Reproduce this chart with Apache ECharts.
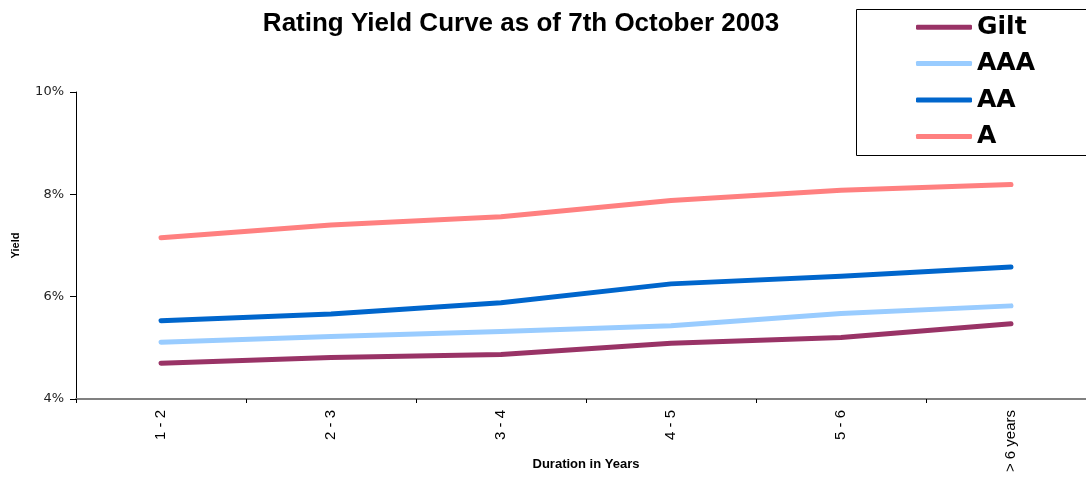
<!DOCTYPE html>
<html>
<head>
<meta charset="utf-8">
<title>Rating Yield Curve</title>
<script src="https://cdn.jsdelivr.net/npm/echarts@6/dist/echarts.min.js"></script>
<style>
  html, body { margin: 0; padding: 0; background: #ffffff; }
  #chart { width: 1086px; height: 477px; }
</style>
</head>
<body>
<div id="chart"></div>
<script>
// Duration buckets (years) and yields in percent per rating class
const durations = ['1 - 2', '2 - 3', '3 - 4', '4 - 5', '5 - 6', '> 6 years'];
const gilt = [4.70, 4.81, 4.87, 5.09, 5.20, 5.47];
const aaa  = [5.11, 5.22, 5.32, 5.43, 5.67, 5.82];
const aa   = [5.53, 5.66, 5.88, 6.25, 6.40, 6.58];
const a    = [7.15, 7.40, 7.56, 7.88, 8.08, 8.19];

const seriesNames = ['Gilt', 'AAA', 'AA', 'A'];
const seriesColors = ['#993366', '#99ccff', '#0066cc', '#ff8080'];
const seriesData = [gilt, aaa, aa, a];

const chart = echarts.init(document.getElementById('chart'), null, { renderer: 'canvas' });

chart.setOption({
  animation: false,
  backgroundColor: '#ffffff',
  title: {
    text: 'Rating Yield Curve as of 7th October 2003',
    left: 516,
    top: 6,
    textAlign: 'center',
    textStyle: {
      fontFamily: 'Liberation Sans, Arial, sans-serif',
      fontWeight: 'bold',
      fontSize: 26,
      color: '#000000'
    }
  },
  graphic: [{
    type: 'rect',
    shape: { x: 856.5, y: 9.5, width: 240, height: 146 },
    style: { fill: '#ffffff', stroke: '#000000', lineWidth: 1 },
    z: 0
  }],
  legend: {
    orient: 'vertical',
    left: 916,
    top: 9,
    padding: 0,
    itemGap: 0,
    itemWidth: 56,
    itemHeight: 5,
    icon: 'roundRect',
    data: seriesNames,
    textStyle: {
      fontFamily: 'DejaVu Sans, Verdana, sans-serif',
      fontWeight: 'bold',
      fontSize: 25,
      lineHeight: 36.4,
      color: '#000000',
      padding: [0, 0, 0, 0]
    },
    z: 5
  },
  grid: {
    left: 76,
    top: 92,
    width: 1020,
    height: 307,
    containLabel: false,
    outerBoundsMode: 'none'
  },
  xAxis: {
    type: 'category',
    data: durations,
    boundaryGap: true,
    name: 'Duration in Years',
    nameLocation: 'middle',
    nameGap: 59,
    nameMoveOverlap: false,
    nameTextStyle: {
      fontFamily: 'Liberation Sans, Arial, sans-serif',
      fontWeight: 'bold',
      fontSize: 13,
      color: '#000000'
    },
    axisLine: { lineStyle: { color: '#808080', width: 2 } },
    axisTick: { show: true, length: 4, lineStyle: { color: '#000000', width: 1 } },
    axisLabel: {
      rotate: 90,
      margin: 11,
      fontFamily: 'Liberation Sans, Arial, sans-serif',
      fontSize: 15,
      color: '#000000'
    },
    splitLine: { show: false }
  },
  yAxis: {
    type: 'value',
    min: 4,
    max: 10,
    interval: 2,
    name: 'Yield',
    nameLocation: 'middle',
    nameRotate: 90,
    nameGap: 55,
    nameMoveOverlap: false,
    nameTextStyle: {
      fontFamily: 'Liberation Sans, Arial, sans-serif',
      fontWeight: 'bold',
      fontSize: 11,
      color: '#000000'
    },
    axisLine: { show: true, lineStyle: { color: '#000000', width: 1 } },
    axisTick: { show: true, length: 6, lineStyle: { color: '#000000' } },
    axisLabel: {
      formatter: '{value}%',
      margin: 12,
      fontFamily: 'DejaVu Sans, Verdana, sans-serif',
      fontSize: 13,
      color: '#222222'
    },
    splitLine: { show: false }
  },
  series: seriesNames.map((name, i) => ({
    name: name,
    type: 'line',
    data: seriesData[i],
    symbol: 'none',
    smooth: false,
    color: seriesColors[i],
    lineStyle: { width: 5, color: seriesColors[i], cap: 'round', join: 'round' },
    itemStyle: { color: seriesColors[i] }
  }))
});
</script>
</body>
</html>
